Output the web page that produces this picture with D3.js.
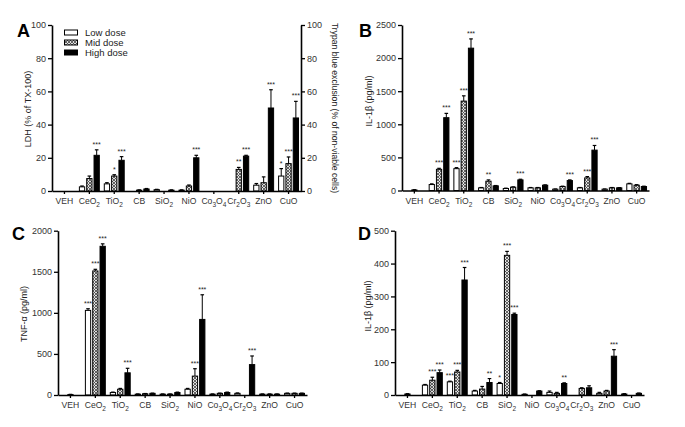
<!DOCTYPE html>
<html><head><meta charset="utf-8">
<script src="https://cdn.jsdelivr.net/npm/d3@7/dist/d3.min.js"></script>
<style>
html,body{margin:0;padding:0;background:#fff;}
text{font-family:"Liberation Sans",Arial,sans-serif;}
</style></head>
<body>
<svg id="chart" width="685" height="427"></svg>
<script>
const categories = ["VEH","CeO2","TiO2","CB","SiO2","NiO","Co3O4","Cr2O3","ZnO","CuO"];
const doses = ["Low dose","Mid dose","High dose"];

// Panel A: LDH (% of TX-100) / Trypan blue
const aLow     = [0, 2.5, 4.3, 0, 0.8, 0.5, 0, 0, 3.5, 9];
const aLowErr  = [0, 0.5, 0.7, 0, 0.2, 0.2, 0, 0, 1, 4.5];
const aMid     = [0, 7.5, 9, 0.5, 0, 3, 0, 13, 5, 16.5];
const aMidErr  = [0, 1.5, 0.8, 0.2, 0, 0.6, 0, 1.2, 3.5, 4];
const aHigh    = [0, 21.5, 18.5, 1.2, 0.5, 20, 0, 21, 50, 44];
const aHighErr = [0, 3.3, 2.2, 0.3, 0.2, 1.5, 0, 0.5, 11, 10];
const aStarsLow  = ["","","","","","","","","","*"];
const aStarsMid  = ["","","*","","","","","**","","***"];
const aStarsHigh = ["","***","***","","","***","","***","***","***"];
const aTicks = [0,20,40,60,80,100];

// Panel B: IL-1β (pg/ml)
const bLow     = [0, 90, 330, 40, 30, 40, 20, 40, 20, 100];
const bLowErr  = [0, 10, 15, 5, 5, 5, 3, 5, 3, 8];
const bMid     = [8, 320, 1350, 140, 50, 40, 60, 190, 40, 80];
const bMidErr  = [4, 15, 80, 20, 5, 5, 5, 20, 5, 8];
const bHigh    = [0, 1100, 2150, 70, 160, 80, 150, 610, 40, 60];
const bHighErr = [0, 65, 140, 5, 10, 5, 10, 70, 3, 5];
const bStarsLow  = ["","","***","","","","","","",""];
const bStarsMid  = ["","***","***","**","","","","***","",""];
const bStarsHigh = ["","***","***","","***","","***","***","",""];
const bTicks = [0,500,1000,1500,2000,2500];

// Panel C: TNF-α (pg/ml)
const cLow     = [0, 1030, 30, 10, 10, 70, 10, 20, 10, 20];
const cLowErr  = [0, 20, 5, 3, 3, 10, 3, 5, 3, 3];
const cMid     = [5, 1510, 70, 15, 10, 230, 20, 0, 10, 20];
const cMidErr  = [3, 20, 10, 3, 3, 90, 3, 0, 3, 3];
const cHigh    = [0, 1810, 270, 20, 30, 920, 30, 370, 10, 20];
const cHighErr = [0, 30, 55, 3, 5, 300, 5, 105, 3, 3];
const cStarsLow  = ["","***","","","","","","","",""];
const cStarsMid  = ["","***","","","","***","","","",""];
const cStarsHigh = ["","***","***","","","***","","***","",""];
const cTicks = [0,500,1000,1500,2000];

// Panel D: IL-1β (pg/ml)
const dLow     = [0, 30, 40, 12, 35, 2, 8, 0, 5, 3];
const dLowErr  = [0, 2, 2, 2, 3, 1, 4, 0, 3, 1];
const dMid     = [3, 45, 70, 18, 425, 0, 5, 20, 12, 0];
const dMidErr  = [1, 9, 5, 8, 12, 0, 3, 2, 2, 0];
const dHigh    = [0, 68, 350, 38, 245, 12, 35, 22, 118, 5];
const dHighErr = [0, 8, 38, 12, 4, 1, 2, 6, 20, 1];
const dStarsLow  = ["","","***","","*","","","","",""];
const dStarsMid  = ["","***","***","","***","","","","",""];
const dStarsHigh = ["","***","***","**","***","","**","","***",""];
const dTicks = [0,100,200,300,400,500];

const svg = d3.select("#chart");
const defs = svg.append("defs");
const pat = defs.append("pattern").attr("id","hatch").attr("patternUnits","userSpaceOnUse")
  .attr("width",3).attr("height",3);
pat.append("rect").attr("width",3).attr("height",3).attr("fill","#e0e0e0");
pat.append("path").attr("d","M0,0L3,3M3,0L0,3").attr("stroke","#444").attr("stroke-width",0.8);

const fills = ["#fff","url(#hatch)","#000"];
const FONT = "Liberation Sans, Arial, sans-serif";

function catLabel(sel, name){
  const parts = name.match(/[A-Za-z]+|\d+/g);
  parts.forEach(p=>{
    if(/^\d+$/.test(p)){
      sel.append("tspan").attr("baseline-shift","-3").attr("font-size",6.5).text(p);
    } else sel.append("tspan").text(p);
  });
}

function panel(cfg){
  const g = svg.append("g");
  const x = d3.scaleBand().domain(categories).range([cfg.x0,cfg.x1]).padding(0);
  const xs = d3.scaleBand().domain(doses).range([0,x.bandwidth()]).paddingInner(0.28).paddingOuter(0.34);
  const y = d3.scaleLinear().domain([0,cfg.max]).range([cfg.yb,cfg.yt]);

  const series = [
    {v:cfg.low, e:cfg.lowErr, s:cfg.starsLow},
    {v:cfg.mid, e:cfg.midErr, s:cfg.starsMid},
    {v:cfg.high, e:cfg.highErr, s:cfg.starsHigh}
  ];
  series.forEach((ser,di)=>{
    const recs = categories.map((c,i)=>({c, v:ser.v[i], e:ser.e[i], s:ser.s[i]})).filter(d=>d.v>0);
    const bx = d=>x(d.c)+xs(doses[di]);
    g.selectAll(null).data(recs).enter().append("rect")
      .attr("x",bx).attr("width",xs.bandwidth())
      .attr("y",d=>y(d.v)).attr("height",d=>Math.max(0,y(0)-y(d.v)))
      .attr("fill",fills[di]).attr("stroke","#000").attr("stroke-width",1);
    const er = recs.filter(d=>d.e>0);
    g.selectAll(null).data(er).enter().append("line")
      .attr("x1",d=>bx(d)+xs.bandwidth()/2).attr("x2",d=>bx(d)+xs.bandwidth()/2)
      .attr("y1",d=>y(d.v)).attr("y2",d=>y(d.v+d.e)).attr("stroke","#000").attr("stroke-width",1);
    g.selectAll(null).data(er).enter().append("line")
      .attr("x1",d=>bx(d)+xs.bandwidth()/2-1.8).attr("x2",d=>bx(d)+xs.bandwidth()/2+1.8)
      .attr("y1",d=>y(d.v+d.e)).attr("y2",d=>y(d.v+d.e)).attr("stroke","#000").attr("stroke-width",1.2);
    g.selectAll(null).data(recs.filter(d=>d.s)).enter().append("text")
      .attr("x",d=>bx(d)+xs.bandwidth()/2).attr("y",d=>y(d.v+d.e)-3)
      .attr("text-anchor","middle").attr("font-size",7).attr("fill","#222").text(d=>d.s);
  });

  const ya = d3.axisLeft(y).tickValues(cfg.ticks).tickFormat(d3.format("d")).tickSize(4).tickSizeOuter(0).tickPadding(2);
  const yg = g.append("g").attr("transform",`translate(${cfg.x0},0)`).call(ya);
  yg.attr("font-family",FONT).attr("font-size",9);
  yg.select(".domain").attr("stroke-width",1.6);
  yg.selectAll(".tick line").attr("stroke-width",1.3);
  yg.selectAll(".tick text").attr("fill","#333");

  if(cfg.right){
    const ra = d3.axisRight(y).tickValues(cfg.ticks).tickFormat(d3.format("d")).tickSize(4).tickSizeOuter(0).tickPadding(2);
    const rg = g.append("g").attr("transform",`translate(${cfg.x1},0)`).call(ra);
    rg.attr("font-family",FONT).attr("font-size",9);
    rg.select(".domain").attr("stroke-width",1.6);
    rg.selectAll(".tick line").attr("stroke-width",1.3);
    rg.selectAll(".tick text").attr("fill","#333");
    g.append("text").attr("transform",`translate(${cfg.rlx},${(cfg.yt+cfg.yb)/2}) rotate(90)`)
      .attr("text-anchor","middle").attr("font-size",8.6).attr("fill","#222").text(cfg.rlabel);
  }

  const xa = d3.axisBottom(x).tickSize(3).tickSizeOuter(0).tickFormat("");
  const xg = g.append("g").attr("transform",`translate(0,${cfg.yb})`).call(xa);
  xg.select(".domain").attr("stroke-width",1.6);
  xg.selectAll(".tick line").attr("stroke-width",1.3);
  categories.forEach(c=>{
    const t = g.append("text").attr("x",x(c)+x.bandwidth()/2).attr("y",cfg.yb+13)
      .attr("text-anchor","middle").attr("font-size",8.6).attr("fill","#333");
    catLabel(t,c);
  });

  g.append("text").attr("transform",`translate(${cfg.lx},${cfg.ly}) rotate(-90)`)
    .attr("text-anchor","middle").attr("font-size",9).attr("fill","#222").text(cfg.label);
  g.append("text").attr("x",cfg.px).attr("y",cfg.py).attr("font-size",18).attr("font-weight","bold")
    .attr("fill","#000").text(cfg.letter);
  return g;
}

panel({x0:52,x1:301,yt:25,yb:191,max:100,ticks:aTicks,low:aLow,lowErr:aLowErr,mid:aMid,midErr:aMidErr,high:aHigh,highErr:aHighErr,
  starsLow:aStarsLow,starsMid:aStarsMid,starsHigh:aStarsHigh,label:"LDH (% of TX-100)",lx:31,ly:109,letter:"A",px:17,py:37,
  right:true,rlabel:"Trypan blue exclusion (% of non-viable cells)",rlx:332});
panel({x0:402,x1:649,yt:25,yb:190.5,max:2500,ticks:bTicks,low:bLow,lowErr:bLowErr,mid:bMid,midErr:bMidErr,high:bHigh,highErr:bHighErr,
  starsLow:bStarsLow,starsMid:bStarsMid,starsHigh:bStarsHigh,label:"IL-1\u03b2 (pg/ml)",lx:372,ly:101,letter:"B",px:359,py:37});
panel({x0:58,x1:307,yt:230.7,yb:395,max:2000,ticks:cTicks,low:cLow,lowErr:cLowErr,mid:cMid,midErr:cMidErr,high:cHigh,highErr:cHighErr,
  starsLow:cStarsLow,starsMid:cStarsMid,starsHigh:cStarsHigh,label:"TNF-\u03b1 (pg/ml)",lx:27,ly:314,letter:"C",px:12,py:240});
panel({x0:395,x1:644,yt:230.7,yb:395,max:500,ticks:dTicks,low:dLow,lowErr:dLowErr,mid:dMid,midErr:dMidErr,high:dHigh,highErr:dHighErr,
  starsLow:dStarsLow,starsMid:dStarsMid,starsHigh:dStarsHigh,label:"IL-1\u03b2 (pg/ml)",lx:371,ly:306,letter:"D",px:358,py:240});

const leg = svg.append("g");
doses.forEach((d,i)=>{
  leg.append("rect").attr("x",64.5).attr("y",30+i*10).attr("width",13).attr("height",5)
    .attr("fill",fills[i]).attr("stroke","#000").attr("stroke-width",1);
  leg.append("text").attr("x",85).attr("y",36+i*10).attr("font-size",9.5).attr("fill","#222").text(d);
});
</script>
</body></html>
